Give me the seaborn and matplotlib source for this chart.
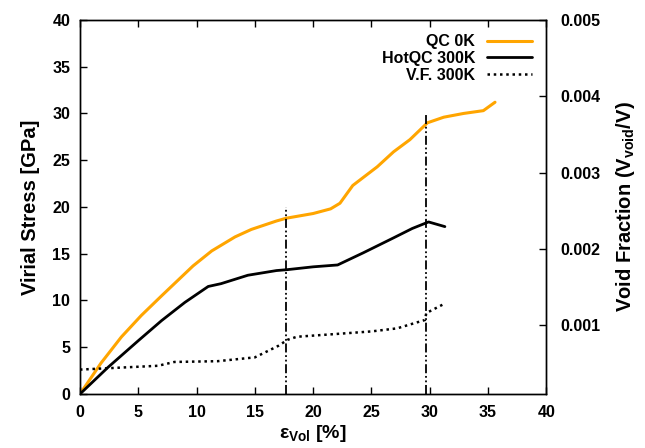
import numpy as np
import pandas as pd
import matplotlib
matplotlib.use('Agg')
import matplotlib.pyplot as plt
import seaborn as sns

# QC 0K stress curve
qc_strain = [0, 1.8, 3.55, 5.26, 7.0, 9.7, 11.3, 13.3, 14.7, 16.85, 17.7, 20, 21.5, 22.3, 23.4,
             25.5, 26.9, 28.3, 29.8, 31.2, 32.9, 34.6, 35.6]
qc_stress = [0, 3.3, 6.1, 8.4, 10.5, 13.7, 15.3, 16.8, 17.6, 18.5, 18.8, 19.3, 19.8, 20.4, 22.3,
             24.3, 25.9, 27.2, 29.0, 29.6, 30.0, 30.3, 31.2]

# HotQC 300K stress curve
hot_strain = [0, 2.4, 5.0, 7.0, 9.0, 11.0, 12.1, 14.4, 16.85, 17.8, 20, 22.1, 24.3, 26.9, 28.5, 29.9, 31.3]
hot_stress = [0, 2.85, 5.7, 7.85, 9.8, 11.5, 11.8, 12.7, 13.2, 13.3, 13.6, 13.8, 15.1, 16.7, 17.7, 18.4, 17.9]

# void fraction at 300K (right axis)
vf_strain = [0, 2.7, 6.7, 8.1, 11.8, 15.0, 17.0, 17.8, 18.6, 22.3, 25, 27.2, 29.6, 29.7, 31.1]
vf_value = [0.00042, 0.00044, 0.00047, 0.00052, 0.00053, 0.00058, 0.00073, 0.00081, 0.00085,
            0.00089, 0.00092, 0.00096, 0.00107, 0.00116, 0.00127]

# vertical markers
vline_x = [17.7, 29.7]
vline_top = [20, 30]

sns.set_theme(style='ticks')
plt.rcParams['font.family'] = 'Liberation Sans'
plt.rcParams['font.weight'] = 'bold'
plt.rcParams['text.color'] = 'black'
plt.rcParams['axes.labelcolor'] = 'black'
plt.rcParams['xtick.color'] = 'black'
plt.rcParams['ytick.color'] = 'black'
plt.rcParams['mathtext.fontset'] = 'custom'
plt.rcParams['mathtext.rm'] = 'Liberation Sans:bold'
plt.rcParams['mathtext.bf'] = 'Liberation Sans:bold'
plt.rcParams['mathtext.it'] = 'Liberation Sans:bold'

fig = plt.figure(figsize=(6.45, 4.48), dpi=100)
ax = fig.add_axes([0.124, 0.1205, 0.723, 0.835])
ax2 = ax.twinx()

qc_df = pd.DataFrame({'strain': qc_strain, 'stress': qc_stress})
hot_df = pd.DataFrame({'strain': hot_strain, 'stress': hot_stress})
vf_df = pd.DataFrame({'strain': vf_strain, 'vf': vf_value})

sns.lineplot(data=qc_df, x='strain', y='stress', ax=ax, color='#ffa500', linewidth=2.2, sort=False)
sns.lineplot(data=hot_df, x='strain', y='stress', ax=ax, color='black', linewidth=2.0, sort=False)
sns.lineplot(data=vf_df, x='strain', y='vf', ax=ax2, color='black', linewidth=1.8,
             linestyle=(0, (1, 1.5)), sort=False)

ax.vlines(vline_x, 0, vline_top, colors='black', linewidth=1.3,
          linestyles=[(0, (5, 1.5, 1, 1.5, 1, 1.5))])

ax.set_xlim(0, 40)
ax.set_ylim(0, 40)
ax2.set_ylim(0.0001, 0.005)
ax.set_xticks(range(0, 41, 5))
ax.set_yticks(range(0, 41, 5))
ax2.set_yticks([0.001, 0.002, 0.003, 0.004, 0.005])
ax2.set_yticklabels(['0.001', '0.002', '0.003', '0.004', '0.005'])

for a in (ax, ax2):
    for s in a.spines.values():
        s.set_visible(True)
        s.set_linewidth(1.0)
        s.set_color('black')
ax.tick_params(axis='both', direction='in', length=5, width=1, labelsize=11.5, pad=8, top=True,
               colors='black')
ax.tick_params(axis='y', right=False, pad=7)
ax2.tick_params(axis='y', direction='in', length=5, width=1, labelsize=11.5, pad=10, colors='black')
for lab in ax.get_xticklabels() + ax.get_yticklabels() + ax2.get_yticklabels():
    lab.set_fontweight('bold')

ax.set_xlabel(r'$\epsilon_{\mathbf{Vol}}$ [%]', fontsize=14, fontweight='bold', labelpad=2, color='black')
ax.set_ylabel('Virial Stress [GPa]', fontsize=14.5, fontweight='bold', labelpad=9, color='black')
ax2.set_ylabel(r'Void Fraction (V$_{\mathbf{void}}$/V)', fontsize=14.5, fontweight='bold', labelpad=10,
               color='black')

handles = [ax.lines[0], ax.lines[1], ax2.lines[0]]
labels = ['QC 0K', 'HotQC 300K', 'V.F. 300K']
leg = ax.legend(handles, labels, loc='upper right', frameon=False, markerfirst=False,
                handlelength=2.8, handletextpad=0.75, borderaxespad=0.6, labelspacing=0.1,
                borderpad=0.3, fontsize=11.5)
for t in leg.get_texts():
    t.set_ha('right')
    t.set_fontweight('bold')
    t.set_color('black')

fig.savefig('out.png', dpi=100)
